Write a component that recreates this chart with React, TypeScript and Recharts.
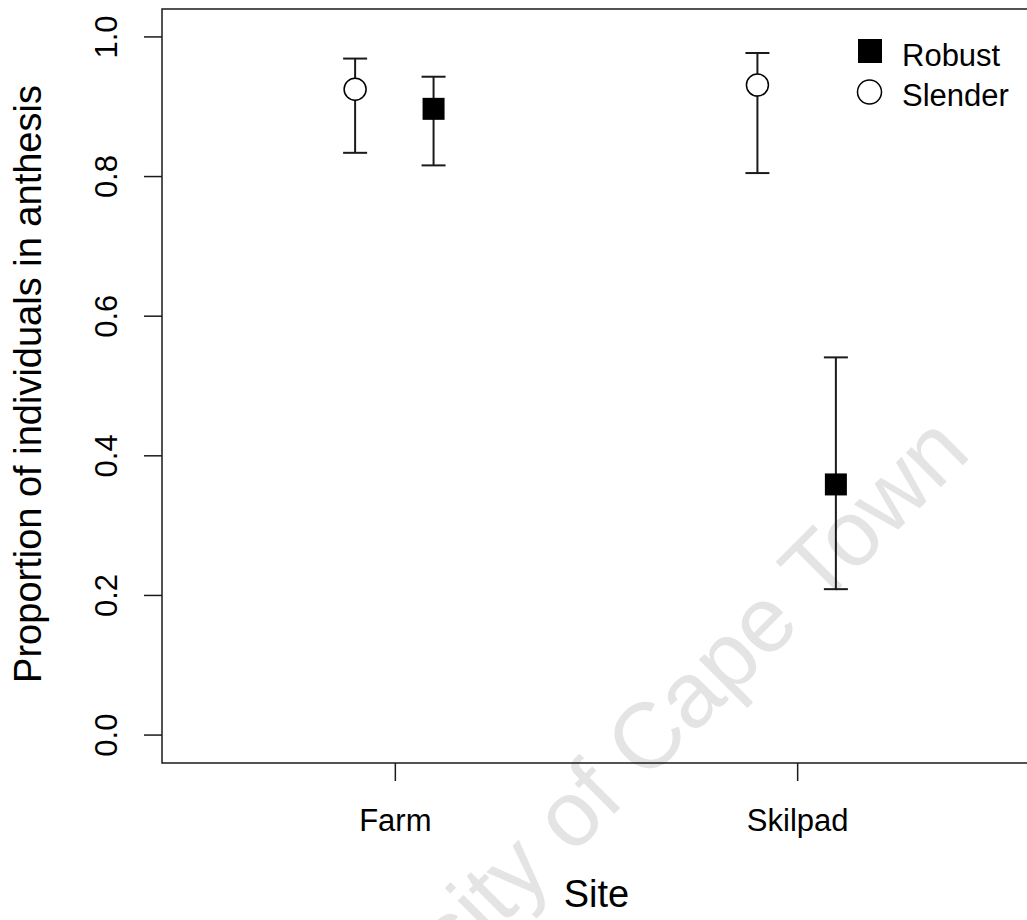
import {
  ComposedChart,
  Scatter,
  ErrorBar,
  XAxis,
  YAxis,
  ReferenceArea,
  Legend,
  Label,
} from 'recharts';

const FONT = '"Liberation Sans", Arial, sans-serif';

// categories and their positions on the x axis
const sites = ['Farm', 'Skilpad'];
const sitePositions = [1, 2];

// point positions (dodged around each site)
const robustX = [1.095, 2.095];
const slenderX = [0.9, 1.9];

// proportions with lower / upper confidence limits
const robustMean = [0.897, 0.359];
const robustLower = [0.816, 0.209];
const robustUpper = [0.943, 0.541];

const slenderMean = [0.925, 0.931];
const slenderLower = [0.834, 0.805];
const slenderUpper = [0.969, 0.977];

const yTicks = [0, 0.2, 0.4, 0.6, 0.8, 1.0];

const toRows = (xs: number[], mean: number[], lo: number[], hi: number[]) =>
  xs.map((x, i) => ({
    x,
    y: mean[i],
    err: [mean[i] - lo[i], hi[i] - mean[i]],
  }));

const robustData = toRows(robustX, robustMean, robustLower, robustUpper);
const slenderData = toRows(slenderX, slenderMean, slenderLower, slenderUpper);

function SquareShape(props: any) {
  const { cx, cy } = props;
  return <rect x={cx - 11} y={cy - 11} width={22} height={22} fill="#000" />;
}

function CircleShape(props: any) {
  const { cx, cy } = props;
  return <circle cx={cx} cy={cy} r={11} fill="#fff" stroke="#000" strokeWidth={1.5} />;
}

function XTick(props: any) {
  const { x, y, payload } = props;
  const idx = sitePositions.indexOf(payload.value);
  return (
    <text x={x} y={y + 50} textAnchor="middle" fontSize={31} fontFamily={FONT} fill="#000">
      {sites[idx]}
    </text>
  );
}

function YTick(props: any) {
  const { x, y, payload } = props;
  const tx = x - 27;
  return (
    <text
      x={tx}
      y={y}
      transform={`rotate(-90, ${tx}, ${y})`}
      textAnchor="middle"
      fontSize={31}
      fontFamily={FONT}
      fill="#000"
    >
      {Number(payload.value).toFixed(1)}
    </text>
  );
}

function LegendBox() {
  return (
    <svg width={180} height={90} style={{ display: 'block' }}>
      <rect x={8} y={9} width={24} height={24} fill="#000" />
      <text x={52} y={36} fontSize={31} fontFamily={FONT} fill="#000">Robust</text>
      <circle cx={19.5} cy={62} r={12} fill="#fff" stroke="#000" strokeWidth={1.5} />
      <text x={52} y={76} fontSize={31} fontFamily={FONT} fill="#000">Slender</text>
    </svg>
  );
}

export default function App() {
  return (
    <div
      style={{
        position: 'absolute',
        left: 0,
        top: 0,
        width: 1027,
        height: 920,
        overflow: 'hidden',
        background: '#fff',
      }}
    >
      {/* watermark behind the plot */}
      <svg width={1027} height={920} style={{ position: 'absolute', left: 0, top: 0 }}>
        <text
          x={619}
          y={809}
          transform="rotate(-45, 619, 809)"
          textAnchor="middle"
          fontSize={93}
          fontFamily={FONT}
          fill="#e4e4e4"
        >
          University of Cape Town
        </text>
      </svg>
      <div style={{ position: 'absolute', left: 0, top: 0 }}>
        <ComposedChart width={1040} height={920} margin={{ top: 9, right: 9, left: 0, bottom: 0 }}>
          <XAxis
            dataKey="x"
            type="number"
            domain={[0.42, 2.58]}
            ticks={sitePositions}
            allowDataOverflow
            height={157}
            axisLine={false}
            tickLine={{ stroke: '#1a1a1a', strokeWidth: 1.5 }}
            tickSize={18}
            tickMargin={0}
            tick={<XTick />}
            interval={0}
          >
            <Label
              content={(p: any) => {
                const vb = p.viewBox;
                return (
                  <text
                    x={vb.x + vb.width / 2}
                    y={907}
                    textAnchor="middle"
                    fontSize={38}
                    fontFamily={FONT}
                    fill="#000"
                  >
                    Site
                  </text>
                );
              }}
            />
          </XAxis>
          <YAxis
            dataKey="y"
            type="number"
            domain={[-0.04, 1.04]}
            ticks={yTicks}
            allowDataOverflow
            width={162}
            axisLine={false}
            tickLine={{ stroke: '#1a1a1a', strokeWidth: 1.5 }}
            tickSize={18}
            tickMargin={0}
            tick={<YTick />}
            interval={0}
          >
            <Label
              content={(p: any) => {
                const vb = p.viewBox;
                const cy = vb.y + vb.height / 2 - 2;
                return (
                  <text
                    x={41}
                    y={cy}
                    transform={`rotate(-90, 41, ${cy})`}
                    textAnchor="middle"
                    fontSize={38}
                    fontFamily={FONT}
                    fill="#000"
                  >
                    Proportion of individuals in anthesis
                  </text>
                );
              }}
            />
          </YAxis>
          <ReferenceArea
            x1={0.42}
            x2={2.58}
            y1={-0.04}
            y2={1.04}
            fill="none"
            stroke="#1a1a1a"
            strokeWidth={1.5}
            ifOverflow="visible"
          />
          <Scatter
            name="Robust"
            data={robustData}
            dataKey="y"
            shape={<SquareShape />}
            isAnimationActive={false}
          >
            <ErrorBar dataKey="err" direction="y" width={12} stroke="#1a1a1a" strokeWidth={2} isAnimationActive={false} />
          </Scatter>
          <Scatter
            name="Slender"
            data={slenderData}
            dataKey="y"
            shape={<CircleShape />}
            isAnimationActive={false}
          >
            <ErrorBar dataKey="err" direction="y" width={12} stroke="#1a1a1a" strokeWidth={2} isAnimationActive={false} />
          </Scatter>
          <Legend
            layout="horizontal"
            verticalAlign="middle"
            align="center"
            content={<LegendBox />}
            wrapperStyle={{ left: 850, top: 30, width: 180, height: 90 }}
          />
        </ComposedChart>
      </div>
    </div>
  );
}
